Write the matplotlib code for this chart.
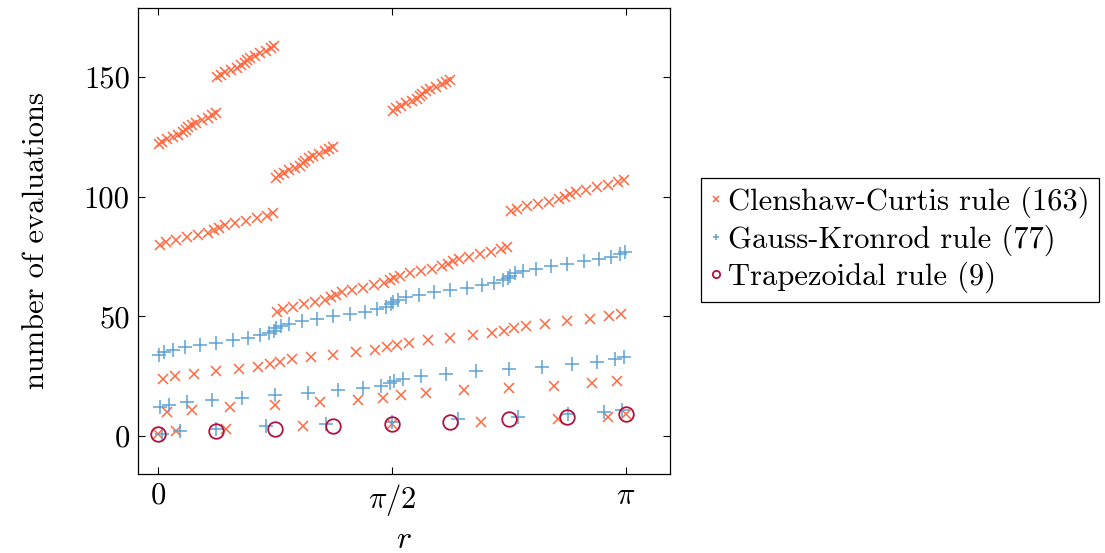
import numpy as np
import matplotlib
matplotlib.use("Agg")
import matplotlib.pyplot as plt

plt.rcParams['font.family'] = ['cmr10', 'DejaVu Serif']
plt.rcParams['mathtext.fontset'] = 'cm'
plt.rcParams['axes.formatter.use_mathtext'] = True
plt.rcParams['axes.unicode_minus'] = False

# node positions r (in units of pi) and the evaluation count they belong to

# Clenshaw-Curtis rule, 163 evaluations
cc_r = [
    0.000, 0.038, 0.146, 0.309, 0.500, 0.691, 0.854, 0.962, 1.000,
    0.019, 0.073, 0.154, 0.250, 0.346, 0.427, 0.481,
    0.519, 0.573, 0.654, 0.750, 0.846, 0.927, 0.981,
    0.010, 0.037, 0.077, 0.125, 0.173, 0.213, 0.240,
    0.260, 0.287, 0.327, 0.375, 0.423, 0.463, 0.490,
    0.510, 0.537, 0.577, 0.625, 0.673, 0.713, 0.740,
    0.760, 0.787, 0.827, 0.875, 0.923, 0.963, 0.990,
    0.255, 0.268, 0.289, 0.313, 0.336, 0.357, 0.370,
    0.380, 0.393, 0.414, 0.438, 0.461, 0.482, 0.495,
    0.505, 0.518, 0.539, 0.563, 0.586, 0.607, 0.620,
    0.630, 0.643, 0.664, 0.688, 0.711, 0.732, 0.745,
    0.005, 0.018, 0.039, 0.063, 0.086, 0.107, 0.120,
    0.130, 0.143, 0.164, 0.188, 0.211, 0.232, 0.245,
    0.755, 0.768, 0.789, 0.813, 0.836, 0.857, 0.870,
    0.880, 0.893, 0.914, 0.938, 0.961, 0.982, 0.995,
    0.252, 0.259, 0.269, 0.281, 0.293, 0.303, 0.310,
    0.315, 0.322, 0.332, 0.344, 0.356, 0.366, 0.373,
    0.002, 0.009, 0.019, 0.031, 0.043, 0.053, 0.060,
    0.065, 0.072, 0.082, 0.094, 0.106, 0.116, 0.123,
    0.502, 0.509, 0.519, 0.531, 0.543, 0.553, 0.560,
    0.565, 0.572, 0.582, 0.594, 0.606, 0.616, 0.623,
    0.127, 0.134, 0.144, 0.156, 0.168, 0.178, 0.185,
    0.190, 0.197, 0.207, 0.219, 0.231, 0.241, 0.248,
]
cc_n = [
    1, 2, 3, 4, 5, 6, 7, 8, 9,
    10, 11, 12, 13, 14, 15, 16, 17, 18, 19, 20, 21, 22, 23,
    24, 25, 26, 27, 28, 29, 30, 31, 32, 33, 34, 35, 36, 37,
    38, 39, 40, 41, 42, 43, 44, 45, 46, 47, 48, 49, 50, 51,
    52, 53, 54, 55, 56, 57, 58, 59, 60, 61, 62, 63, 64, 65,
    66, 67, 68, 69, 70, 71, 72, 73, 74, 75, 76, 77, 78, 79,
    80, 81, 82, 83, 84, 85, 86, 87, 88, 89, 90, 91, 92, 93,
    94, 95, 96, 97, 98, 99, 100, 101, 102, 103, 104, 105, 106, 107,
    108, 109, 110, 111, 112, 113, 114, 115, 116, 117, 118, 119, 120, 121,
    122, 123, 124, 125, 126, 127, 128, 129, 130, 131, 132, 133, 134, 135,
    136, 137, 138, 139, 140, 141, 142, 143, 144, 145, 146, 147, 148, 149,
    150, 151, 152, 153, 154, 155, 156, 157, 158, 159, 160, 161, 162, 163,
]

# Gauss-Kronrod rule, 77 evaluations
gk_r = [
    0.008, 0.047, 0.123, 0.231, 0.360, 0.500, 0.640, 0.769, 0.877, 0.953, 0.992,
    0.004, 0.023, 0.061, 0.115, 0.180, 0.250, 0.320, 0.385, 0.439, 0.477, 0.496,
    0.504, 0.523, 0.561, 0.615, 0.680, 0.750, 0.820, 0.885, 0.939, 0.977, 0.996,
    0.002, 0.012, 0.031, 0.058, 0.090, 0.125, 0.160, 0.192, 0.219, 0.238, 0.248,
    0.252, 0.262, 0.281, 0.308, 0.340, 0.375, 0.410, 0.442, 0.469, 0.488, 0.498,
    0.502, 0.512, 0.531, 0.558, 0.590, 0.625, 0.660, 0.692, 0.719, 0.738, 0.748,
    0.752, 0.762, 0.781, 0.808, 0.840, 0.875, 0.910, 0.942, 0.969, 0.988, 0.998,
]
gk_n = [
    1, 2, 3, 4, 5, 6, 7, 8, 9, 10, 11,
    12, 13, 14, 15, 16, 17, 18, 19, 20, 21, 22,
    23, 24, 25, 26, 27, 28, 29, 30, 31, 32, 33,
    34, 35, 36, 37, 38, 39, 40, 41, 42, 43, 44,
    45, 46, 47, 48, 49, 50, 51, 52, 53, 54, 55,
    56, 57, 58, 59, 60, 61, 62, 63, 64, 65, 66,
    67, 68, 69, 70, 71, 72, 73, 74, 75, 76, 77,
]

# trapezoidal rule, 9 evaluations
tr_r = [0.000, 0.125, 0.250, 0.375, 0.500, 0.625, 0.750, 0.875, 1.000]
tr_n = [1, 2, 3, 4, 5, 6, 7, 8, 9]

red = '#ff6a42'
blue = '#5fa2d4'
crimson = '#b3123f'

fig = plt.figure(figsize=(11.05, 5.53), dpi=100)
ax = fig.add_axes([0.1249, 0.1429, 0.4814, 0.8426])

ax.plot(np.pi * np.array(cc_r), cc_n, 'x', color=red, ms=7.5, mew=1.1,
        label='Clenshaw-Curtis rule (163)')
ax.plot(np.pi * np.array(gk_r), gk_n, '+', color=blue, ms=9.5, mew=1.1,
        label='Gauss-Kronrod rule (77)')
ax.plot(np.pi * np.array(tr_r), tr_n, 'o', mfc='none', mec=crimson, ms=10.5,
        mew=1.3, label='Trapezoidal rule (9)')

ax.set_xlim(-0.0427 * np.pi, 1.094 * np.pi)
ax.set_ylim(-15.9, 178.9)
ax.set_xticks([0, np.pi / 2, np.pi])
ax.set_xticklabels(['$0$', r'$\pi/2$', r'$\pi$'])
ax.set_yticks([0, 50, 100, 150])
ax.set_yticklabels(['0', '50', '100', '150'])
ax.tick_params(direction='in', top=True, right=True, length=5, width=0.8,
               labelsize=22, pad=6)
for s in ax.spines.values():
    s.set_linewidth(0.9)

ax.set_xlabel('$r$', fontsize=23, labelpad=6)
ax.set_ylabel('number of evaluations', fontsize=22, labelpad=24)

leg = ax.legend(loc='center left', bbox_to_anchor=(701 / 1105, 1 - 240 / 553),
                bbox_transform=fig.transFigure, fontsize=22, frameon=True,
                fancybox=False, edgecolor='black', framealpha=1,
                markerscale=0.5, handlelength=0.4, handletextpad=0.2,
                borderpad=0.3, labelspacing=0.2, borderaxespad=0)
leg.get_frame().set_linewidth(0.9)

fig.savefig('out.png', dpi=100)
